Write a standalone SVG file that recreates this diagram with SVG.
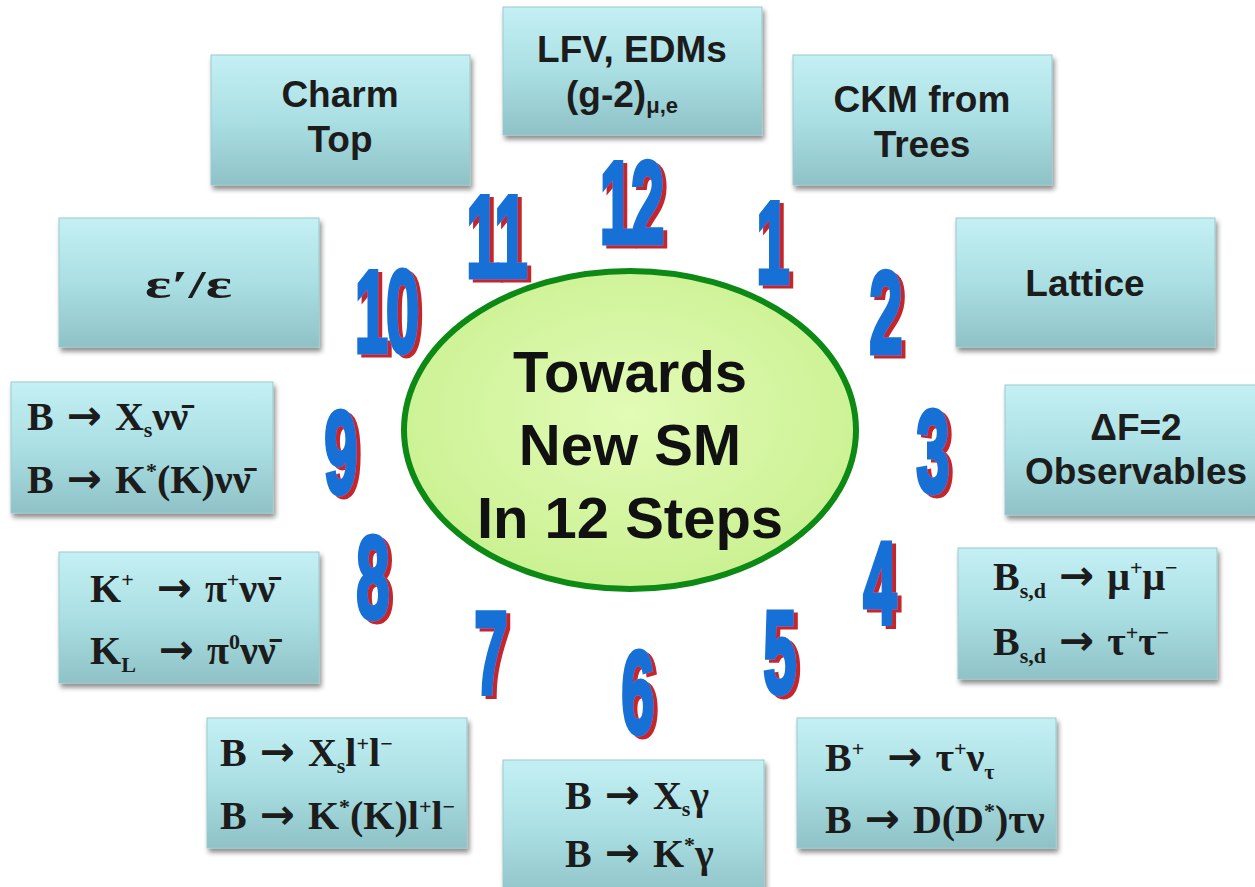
<svg xmlns="http://www.w3.org/2000/svg" width="1255" height="887" viewBox="0 0 1255 887">
<defs>
  <linearGradient id="boxg" x1="0" y1="0" x2="0" y2="1">
    <stop offset="0" stop-color="#c4f0f4"/>
    <stop offset="0.5" stop-color="#aadfe3"/>
    <stop offset="1" stop-color="#8ec2c6"/>
  </linearGradient>
  <radialGradient id="ellg" cx="0.5" cy="0.45" r="0.6">
    <stop offset="0" stop-color="#e2fbb6"/>
    <stop offset="1" stop-color="#c9f08f"/>
  </radialGradient>
  <filter id="sh" x="-10%" y="-10%" width="125%" height="130%">
    <feDropShadow dx="2" dy="4" stdDeviation="2.5" flood-color="#000" flood-opacity="0.45"/>
  </filter>
  <filter id="nsh" x="-30%" y="-20%" width="170%" height="150%">
    <feFlood flood-color="#c4262c"/>
    <feComposite in2="SourceAlpha" operator="in"/>
    <feOffset dx="3.5" dy="1.6" result="r"/>
    <feMerge><feMergeNode in="r"/><feMergeNode in="SourceGraphic"/></feMerge>
  </filter>
  <style>
    .box{fill:url(#boxg);stroke:#9cc9cc;stroke-width:1;filter:url(#sh)}
    .t{font-family:"Liberation Sans",Arial,sans-serif;font-weight:bold;font-size:37px;fill:#1c1c1c;text-anchor:middle}
    .f{font-family:"Liberation Serif","Times New Roman",serif;font-weight:bold;font-size:40px;fill:#1c1c1c;word-spacing:3px}
    .s{font-size:22px}
    .ar{font-family:"DejaVu Sans",sans-serif;font-weight:bold;font-size:42px}
    .ctr{font-family:"Liberation Sans",Arial,sans-serif;font-weight:bold;font-size:58px;fill:#111;text-anchor:middle}
    .n{font-family:"Liberation Sans",Arial,sans-serif;font-weight:bold;font-size:60px;text-anchor:middle;letter-spacing:-2px;fill:#1670d6;stroke:#1670d6;stroke-width:2.5px;filter:url(#nsh)}
  </style>
</defs>
<rect width="1255" height="887" fill="#ffffff"/>

<g id="center">
  <ellipse cx="630" cy="430" rx="226" ry="159" fill="url(#ellg)" stroke="#0d8a16" stroke-width="6"/>
  <text class="ctr" x="630" y="392">Towards</text>
  <text class="ctr" x="630" y="465">New SM</text>
  <text class="ctr" x="630" y="538">In 12 Steps</text>
</g>

<g id="node-12">
  <rect class="box" x="503" y="7" width="259" height="128"/>
  <text class="t" x="632" y="62">LFV, EDMs</text>
  <text class="t" x="622" y="107">(g-2)<tspan class="s" font-size="17" dy="6">μ,e</tspan></text>
</g>
<g id="node-11">
  <rect class="box" x="211" y="55" width="259" height="130"/>
  <text class="t" x="340" y="107">Charm</text>
  <text class="t" x="340" y="152">Top</text>
</g>
<g id="node-1">
  <rect class="box" x="793" y="55" width="259" height="130"/>
  <text class="t" x="922" y="112">CKM from</text>
  <text class="t" x="922" y="157">Trees</text>
</g>
<g id="node-2">
  <rect class="box" x="956" y="218" width="259" height="129"/>
  <text class="t" x="1085" y="296">Lattice</text>
</g>
<g id="node-10">
  <rect class="box" x="59" y="218" width="260" height="129"/>
  <text class="f" x="145" y="298" font-size="50" textLength="87" lengthAdjust="spacingAndGlyphs">ε′/ε</text>
</g>
<g id="node-3">
  <rect class="box" x="1005" y="385" width="262" height="130"/>
  <text class="t" x="1136" y="440">ΔF=2</text>
  <text class="t" x="1136" y="484">Observables</text>
</g>
<g id="node-9">
  <rect class="box" x="11" y="382" width="262" height="131"/>
  <text class="f" x="27" y="430">B <tspan class="ar">→</tspan> X<tspan class="s" dy="7">s</tspan><tspan dy="-7">νν̄</tspan></text>
  <text class="f" x="27" y="493">B <tspan class="ar">→</tspan> K<tspan class="s" dy="-15">*</tspan><tspan dy="15">(K)νν̄</tspan></text>
</g>
<g id="node-4">
  <rect class="box" x="958" y="548" width="259" height="131"/>
  <text class="f" x="993" y="590">B<tspan class="s" dy="8">s,d</tspan><tspan dy="-8"> </tspan><tspan class="ar">→</tspan> μ<tspan class="s" dy="-15">+</tspan><tspan dy="15">μ</tspan><tspan class="s" dy="-15">−</tspan></text>
  <text class="f" x="993" y="655">B<tspan class="s" dy="8">s,d</tspan><tspan dy="-8"> </tspan><tspan class="ar">→</tspan> τ<tspan class="s" dy="-15">+</tspan><tspan dy="15">τ</tspan><tspan class="s" dy="-15">−</tspan></text>
</g>
<g id="node-8">
  <rect class="box" x="59" y="552" width="260" height="131"/>
  <text class="f" x="90" y="602">K<tspan class="s" dy="-15">+</tspan><tspan dy="15"> </tspan><tspan class="ar" dx="10">→</tspan> π<tspan class="s" dy="-15">+</tspan><tspan dy="15">νν̄</tspan></text>
  <text class="f" x="90" y="664">K<tspan class="s" dy="8">L</tspan><tspan dy="-8"> </tspan><tspan class="ar" dx="10">→</tspan> π<tspan class="s" dy="-15">0</tspan><tspan dy="15">νν̄</tspan></text>
</g>
<g id="node-5">
  <rect class="box" x="797" y="718" width="259" height="130"/>
  <text class="f" x="825" y="771">B<tspan class="s" dy="-15">+</tspan><tspan dy="15"> </tspan><tspan class="ar" dx="10">→</tspan> τ<tspan class="s" dy="-15">+</tspan><tspan dy="15">ν</tspan><tspan class="s" dy="8">τ</tspan></text>
  <text class="f" x="825" y="833">B <tspan class="ar">→</tspan> D(D<tspan class="s" dy="-15">*</tspan><tspan dy="15">)τν</tspan></text>
</g>
<g id="node-7">
  <rect class="box" x="207" y="718" width="260" height="130"/>
  <text class="f" x="220" y="766">B <tspan class="ar">→</tspan> X<tspan class="s" dy="7">s</tspan><tspan dy="-7">l</tspan><tspan class="s" dy="-15">+</tspan><tspan dy="15">l</tspan><tspan class="s" dy="-15">−</tspan></text>
  <text class="f" x="220" y="829">B <tspan class="ar">→</tspan> K<tspan class="s" dy="-15">*</tspan><tspan dy="15">(K)l</tspan><tspan class="s" dy="-15">+</tspan><tspan dy="15">l</tspan><tspan class="s" dy="-15">−</tspan></text>
</g>
<g id="node-6">
  <rect class="box" x="503" y="760" width="261" height="140"/>
  <text class="f" x="565" y="809">B <tspan class="ar">→</tspan> X<tspan class="s" dy="7">s</tspan><tspan dy="-7">γ</tspan></text>
  <text class="f" x="565" y="867">B <tspan class="ar">→</tspan> K<tspan class="s" dy="-15">*</tspan><tspan dy="15">γ</tspan></text>
</g>

<g id="numbers">
  <g id="num-12" transform="translate(631,243) scale(1,1.95)"><text class="n">12</text></g>
  <g id="num-11" transform="translate(496,277) scale(1,1.95)"><text class="n">11</text></g>
  <g id="num-1" transform="translate(772,283) scale(1,1.95)"><text class="n">1</text></g>
  <g id="num-10" transform="translate(386,352) scale(1,1.95)"><text class="n">10</text></g>
  <g id="num-2" transform="translate(885,353) scale(1,1.95)"><text class="n">2</text></g>
  <g id="num-9" transform="translate(340,493) scale(1,1.95)"><text class="n">9</text></g>
  <g id="num-3" transform="translate(932,492) scale(1,1.95)"><text class="n">3</text></g>
  <g id="num-8" transform="translate(372,618) scale(1,1.95)"><text class="n">8</text></g>
  <g id="num-4" transform="translate(879,623) scale(1,1.95)"><text class="n">4</text></g>
  <g id="num-7" transform="translate(490,693) scale(1,1.95)"><text class="n">7</text></g>
  <g id="num-5" transform="translate(779,693) scale(1,1.95)"><text class="n">5</text></g>
  <g id="num-6" transform="translate(637,733) scale(1,1.95)"><text class="n">6</text></g>
</g>
</svg>
